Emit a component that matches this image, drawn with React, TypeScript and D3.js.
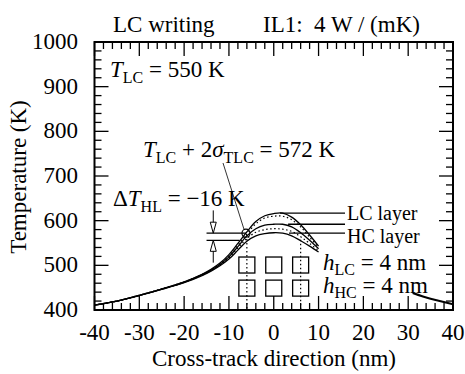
import React from "react";
import * as d3 from "d3";

// cross-track positions (nm) and temperatures (K)
const xNm = [-40, -35, -30, -25, -20, -16, -14, -12, -10, -8, -6, -4, -2, 0, 2, 4, 6, 8, 10];
const lcUpper = [411, 420, 433, 447, 463, 480, 491, 505, 524, 549, 575, 598, 611, 616, 617, 608, 591, 568, 543];
const lcDotted = [411, 420, 433, 447, 463, 479, 490, 503, 521, 545, 570, 593, 606, 610, 610, 602, 586, 563, 540];
const midSolid = [411, 420, 433, 447, 462, 479, 489, 502, 519, 542, 566, 582, 590, 592, 592, 586, 573, 556, 537];
const hcDotted = [411, 420, 433, 447, 462, 478, 488, 501, 517, 539, 560, 574, 580, 582, 581, 576, 564, 549, 533];
const hcLower = [411, 420, 432, 446, 461, 477, 487, 499, 514, 534, 554, 566, 571, 573, 572, 566, 555, 543, 530];

const tailX = [31, 35, 40];
const tailT = [438, 425, 413];

const xTicks = [-40, -30, -20, -10, 0, 10, 20, 30, 40];
const yTicks = [400, 500, 600, 700, 800, 900, 1000];

// peak levels for the leader lines at the right
const peakLines = [
  { from: 1.4, t: 617 },
  { from: 3.2, t: 592 },
  { from: 3.4, t: 572 },
];
// levels of the ΔT_HL bracket
const leftLines = [
  { from: -15, to: -6.2, t: 572 },
  { from: -15, to: -7.6, t: 556 },
];
const grainCols = [-6, 0, 6];
const grainRows = [500.7, 449];
const dotCols = [
  { x: -6, t: 568 },
  { x: 6, t: 557 },
];

const W = 465;
const H = 374;
const font = "'Liberation Serif', 'Times New Roman', serif";

export default function App() {
  const x = d3.scaleLinear().domain([-40, 40]).range([94.5, 453]);
  const y = d3.scaleLinear().domain([400, 1000]).range([310, 42]);

  const line = d3
    .line<[number, number]>()
    .x((d) => x(d[0]))
    .y((d) => y(d[1]))
    .curve(d3.curveCatmullRom);

  const pts = (vals: number[]) => xNm.map((v, i) => [v, vals[i]] as [number, number]);

  const xMinor = d3.range(-40, 40.1, 2);
  const yMinor = d3.range(400, 1000.1, 20);

  const sub = 16;
  const grainPx = 16;

  const arrowX = x(-13.5);

  return (
    <svg
      width={W}
      height={H}
      style={{ position: "absolute", left: 0, top: 0, background: "#fff" }}
      fontFamily={font}
    >
      <rect width={W} height={H} fill="#fff" />

      {/* ticks, inward on all four sides */}
      <g stroke="#000" strokeWidth={1.3}>
        {xMinor.map((t) => {
          const major = t % 10 === 0;
          const len = major ? 14 : 7;
          return (
            <g key={"xt" + t}>
              <line x1={x(t)} x2={x(t)} y1={y(400)} y2={y(400) - len} />
              <line x1={x(t)} x2={x(t)} y1={y(1000)} y2={y(1000) + len} />
            </g>
          );
        })}
        {yMinor.map((t) => {
          const major = t % 100 === 0;
          const len = major ? 14 : 7;
          return (
            <g key={"yt" + t}>
              <line x1={x(-40)} x2={x(-40) + len} y1={y(t)} y2={y(t)} />
              <line x1={x(40)} x2={x(40) - len} y1={y(t)} y2={y(t)} />
            </g>
          );
        })}
      </g>
      <rect
        x={x(-40)}
        y={y(1000)}
        width={x(40) - x(-40)}
        height={y(400) - y(1000)}
        fill="none"
        stroke="#000"
        strokeWidth={2}
      />

      {/* tick labels */}
      <g fontSize={23} fill="#000">
        {xTicks.map((t) => (
          <text key={"xl" + t} x={x(t)} y={340} textAnchor="middle">
            {t}
          </text>
        ))}
        {yTicks.map((t) => (
          <text key={"yl" + t} x={78} y={y(t) + 7} textAnchor="end">
            {t}
          </text>
        ))}
      </g>

      <text x={274} y={366} fontSize={23} textAnchor="middle">
        Cross-track direction (nm)
      </text>
      <text
        transform="translate(26,177) rotate(-90)"
        fontSize={23}
        textAnchor="middle"
      >
        Temperature (K)
      </text>

      <text x={113} y={32} fontSize={23}>
        LC writing
      </text>
      <text x={263} y={32} fontSize={23} style={{ whiteSpace: "pre" }}>
        IL1:  4 W / (mK)
      </text>

      {/* grains */}
      <g fill="none" stroke="#000" strokeWidth={1.3}>
        {grainRows.map((r) =>
          grainCols.map((c) => (
            <rect
              key={"g" + r + c}
              x={x(c) - grainPx / 2}
              y={y(r) - grainPx / 2}
              width={grainPx}
              height={grainPx}
            />
          ))
        )}
      </g>
      <g stroke="#000" strokeWidth={1.2} strokeDasharray="1.5,2.5">
        {dotCols.map((d) => (
          <line key={"dc" + d.x} x1={x(d.x)} x2={x(d.x)} y1={y(d.t)} y2={y(400)} />
        ))}
      </g>

      {/* curves */}
      <g fill="none" stroke="#000">
        <path d={line(pts(lcUpper)) || ""} strokeWidth={1.3} />
        <path d={line(pts(midSolid)) || ""} strokeWidth={1.3} />
        <path d={line(pts(hcLower)) || ""} strokeWidth={1.3} />
        <path d={line(pts(lcDotted)) || ""} strokeWidth={1.2} strokeDasharray="1.5,2.5" />
        <path d={line(pts(hcDotted)) || ""} strokeWidth={1.2} strokeDasharray="1.5,2.5" />
        <path
          d={line(tailX.map((v, i) => [v, tailT[i]] as [number, number])) || ""}
          strokeWidth={2}
        />
      </g>

      {/* level lines */}
      <g stroke="#000" strokeWidth={1.3}>
        {peakLines.map((p) => (
          <line key={"pl" + p.t} x1={x(p.from)} x2={345} y1={y(p.t)} y2={y(p.t)} />
        ))}
        {leftLines.map((p) => (
          <line key={"ll" + p.t} x1={x(p.from)} x2={x(p.to)} y1={y(p.t)} y2={y(p.t)} />
        ))}
      </g>

      {/* ΔT arrows */}
      <g stroke="#000" strokeWidth={1} fill="#fff">
        <line x1={arrowX} x2={arrowX} y1={y(623)} y2={y(572) - 10} />
        <path
          d={`M${arrowX - 3},${y(572) - 11} L${arrowX + 3},${y(572) - 11} L${arrowX},${y(572)} Z`}
        />
        <line x1={arrowX} x2={arrowX} y1={y(506)} y2={y(556) + 10} />
        <path
          d={`M${arrowX - 3},${y(556) + 11} L${arrowX + 3},${y(556) + 11} L${arrowX},${y(556)} Z`}
        />
      </g>

      {/* marker and leader */}
      <circle cx={x(-6.2)} cy={y(572)} r={4} fill="none" stroke="#000" strokeWidth={1.2} />
      <line x1={223} y1={163} x2={x(-6.2) - 2} y2={y(572) - 4} stroke="#000" strokeWidth={0.8} />

      {/* annotations */}
      <g fontSize={23} fill="#000" style={{ whiteSpace: "pre" }}>
        <text x={110} y={77}>
          <tspan fontStyle="italic">T</tspan>
          <tspan fontSize={sub} dy={6}>LC</tspan>
          <tspan dy={-6}> = 550 K</tspan>
        </text>
        <text x={143} y={157}>
          <tspan fontStyle="italic">T</tspan>
          <tspan fontSize={sub} dy={6}>LC</tspan>
          <tspan dy={-6}> + 2</tspan>
          <tspan fontStyle="italic">σ</tspan>
          <tspan fontSize={sub} dy={6}>TLC</tspan>
          <tspan dy={-6}> = 572 K</tspan>
        </text>
        <text x={113} y={206}>
          <tspan>Δ</tspan>
          <tspan fontStyle="italic">T</tspan>
          <tspan fontSize={sub} dy={6}>HL</tspan>
          <tspan dy={-6}> = −16 K</tspan>
        </text>
        <text x={347} y={220} fontSize={20}>LC layer</text>
        <text x={347} y={243} fontSize={20}>HC layer</text>
        <text x={323} y={270}>
          <tspan fontStyle="italic">h</tspan>
          <tspan fontSize={sub} dy={5}>LC</tspan>
          <tspan dy={-5}> = 4 nm</tspan>
        </text>
        <text x={323} y={293}>
          <tspan fontStyle="italic">h</tspan>
          <tspan fontSize={sub} dy={5}>HC</tspan>
          <tspan dy={-5}> = 4 nm</tspan>
        </text>
      </g>
    </svg>
  );
}
